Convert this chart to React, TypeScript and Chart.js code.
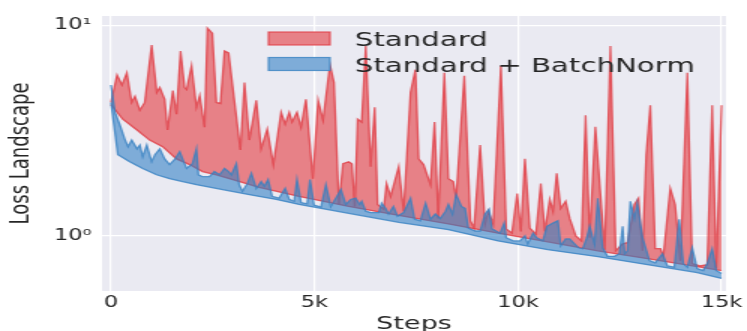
import { useEffect, useRef } from 'react';
import { Chart, registerables } from 'chart.js';

Chart.register(...registerables);

// Training curves: min/max envelope of the loss landscape for each network.
const standardHighSteps = [
  0, 150, 270, 390, 510, 590, 710, 830, 1000, 1125,
  1200, 1320, 1390, 1520, 1610, 1710, 1810, 1860, 1980, 2100,
  2180, 2300, 2370, 2490, 2590, 2690, 2790, 2890, 3180, 3280,
  3400, 3570, 3690, 3840, 3990, 4180, 4280, 4380, 4450, 4570,
  4670, 4790, 4960, 5090, 5210, 5380, 5480, 5600, 5700, 5840,
  5920, 5990, 6060, 6160, 6260, 6380, 6480, 6550, 6700, 6770,
  6870, 7070, 7190, 7360, 7480, 7560, 7680, 7850, 7950, 8040,
  8190, 8290, 8410, 8480, 8680, 8830, 8920, 9070, 9190, 9270,
  9390, 9580, 9710, 9850, 9980, 10070, 10170, 10290, 10440, 10560,
  10660, 10780, 10860, 10950, 11050, 11170, 11270, 11420, 11560, 11660,
  11760, 11900, 12130, 12270, 12400, 12570, 12690, 12860, 12960, 13060,
  13150, 13250, 13370, 13500, 13570, 13740, 13860, 13990, 14160, 14280,
  14470, 14650, 14770, 14870, 15000,
];
const standardHighLoss = [
  4.3, 5.8, 5.2, 5.95, 4.3, 4.6, 3.95, 4.3, 8.06, 4.8,
  5.06, 4.45, 3.18, 4.9, 3.78, 7.55, 5.06, 4.95, 6.42, 4.08,
  4.64, 3.28, 9.68, 9.17, 4.3, 4.25, 7.55, 7.39, 2.56, 5.34,
  2.85, 4.4, 2.59, 3.21, 2.18, 3.86, 3.39, 3.86, 3.47, 3.86,
  3.28, 4.45, 1.87, 4.4, 3.54, 6.49, 5.34, 1.41, 2.2, 2.25,
  2.2, 1.38, 3.58, 3.47, 7.97, 2.13, 4.08, 1.41, 1.34, 1.77,
  1.54, 2.13, 1.31, 4.8, 6.15, 2.32, 2.18, 1.75, 3.47, 1.21,
  5.95, 1.87, 1.81, 1.51, 5.76, 1.18, 1.09, 2.7, 1.14, 1.31,
  1.14, 6.42, 1.08, 1.03, 1.59, 1.05, 2.32, 1.09, 1.02, 1.77,
  1.05, 1.49, 1.31, 1.98, 1.35, 1.46, 1.21, 1.0, 0.947, 3.74,
  0.98, 3.3, 0.86, 7.97, 0.85, 0.917, 0.93, 1.41, 1.51, 0.85,
  2.43, 4.17, 0.87, 0.87, 0.8, 1.68, 1.41, 0.763, 5.95, 0.739,
  0.72, 0.73, 4.17, 0.7, 4.17,
];

const standardLowSteps = [
  0, 290, 640, 950, 1270, 1610, 1930, 2250, 2590, 2910,
  3640, 4620, 5840, 7070, 8290, 9510, 10730, 11960, 13180, 14400, 15000,
];
const standardLowLoss = [
  4.2, 3.58, 3.18, 2.85, 2.65, 2.32, 2.18, 2.02, 1.95, 1.87,
  1.7, 1.54, 1.38, 1.25, 1.14, 1.03, 0.937, 0.85, 0.78, 0.715, 0.685,
];

const batchNormHighSteps = [
  0, 100, 220, 340, 420, 510, 640, 710, 780, 880,
  1000, 1080, 1200, 1320, 1440, 1560, 1690, 1760, 1860, 2000,
  2100, 2150, 2250, 2420, 2540, 2670, 2790, 2890, 2960, 3080,
  3150, 3230, 3350, 3450, 3570, 3690, 3770, 3860, 3960, 4130,
  4280, 4380, 4500, 4570, 4670, 4820, 4890, 4990, 5160, 5280,
  5400, 5550, 5650, 5770, 5890, 6010, 6110, 6160, 6260, 6380,
  6580, 6650, 6750, 6820, 6940, 7040, 7190, 7360, 7460, 7600,
  7730, 7850, 7970, 8090, 8220, 8290, 8390, 8480, 8610, 8700,
  8780, 8950, 9070, 9190, 9290, 9360, 9460, 9560, 9660, 9710,
  9880, 10050, 10170, 10240, 10370, 10460, 10610, 10710, 10860, 10980,
  11050, 11170, 11270, 11390, 11490, 11590, 11690, 11760, 11880, 11960,
  12080, 12200, 12370, 12490, 12570, 12620, 12690, 12760, 12860, 12930,
  13060, 13230, 13370, 13550, 13670, 13840, 13960, 14060, 14160, 14280,
  14400, 14550, 14650, 14770, 14870, 15000,
];
const batchNormHighLoss = [
  5.2, 3.86, 3.36, 2.88, 2.65, 2.85, 2.59, 2.7, 2.38, 2.7,
  2.25, 2.43, 2.59, 2.32, 2.18, 2.3, 2.51, 2.32, 2.09, 2.2,
  2.59, 1.95, 1.91, 1.91, 2.02, 1.95, 2.09, 2.02, 1.95, 2.2,
  1.75, 1.63, 1.77, 1.98, 1.68, 1.81, 1.72, 1.85, 1.54, 1.51,
  1.68, 1.49, 1.46, 1.85, 1.44, 1.42, 1.85, 1.4, 1.37, 1.75,
  1.38, 1.54, 1.66, 1.41, 1.49, 1.51, 1.41, 1.46, 1.31, 1.29,
  1.29, 1.43, 1.35, 1.27, 1.38, 1.24, 1.29, 1.51, 1.2, 1.18,
  1.43, 1.2, 1.27, 1.21, 1.31, 1.41, 1.27, 1.57, 1.38, 1.35,
  1.09, 1.055, 1.055, 1.27, 1.34, 1.08, 1.055, 1.03, 1.15, 0.98,
  0.947, 0.947, 1.0, 0.917, 1.03, 0.98, 0.947, 1.11, 1.15, 1.18,
  0.898, 0.968, 0.968, 0.917, 0.878, 0.869, 0.98, 1.11, 0.917, 1.51,
  0.878, 0.8, 0.8, 0.823, 1.11, 0.823, 0.85, 1.46, 1.21, 1.43,
  0.98, 0.763, 0.745, 0.823, 0.72, 0.71, 1.2, 0.739, 0.71, 0.878,
  0.7, 0.685, 0.739, 0.869, 0.685, 0.663,
];

const batchNormLowSteps = [
  0, 170, 460, 780, 1120, 1440, 1760, 2100, 2740, 3400,
  4060, 4620, 5840, 7070, 8290, 9510, 10730, 11960, 13180, 14400, 15000,
];
const batchNormLowLoss = [
  4.3, 2.43, 2.25, 2.09, 1.95, 1.87, 1.81, 1.75, 1.66, 1.57,
  1.49, 1.41, 1.28, 1.16, 1.07, 0.947, 0.86, 0.797, 0.73, 0.67, 0.628,
];

const seriesNames = ['Standard', 'Standard + BatchNorm'];
const xTickValues = [0, 5000, 10000, 15000];
const xTickLabels = ['0', '5k', '10k', '15k'];
const yTickValues = [1, 10];
const yTickLabels = ['10\u2070', '10\u00b9'];

const FONT = '"DejaVu Sans", sans-serif';
const TEXT = '#262626';
const PLOT_BG = '#EAEAF2';
const RED_FILL = 'rgba(228, 58, 64, 0.6)';
const RED_EDGE = 'rgba(224, 56, 64, 0.78)';
const BLUE_FILL = 'rgba(48, 128, 196, 0.58)';
const BLUE_EDGE = 'rgba(52, 128, 194, 0.78)';

// The figure is laid out at 498px wide and shown 1.5x wider.
const DRAW_W = 498;
const DRAW_H = 331;
const SHOW_W = 747;

const toPoints = (xs: number[], ys: number[]) => xs.map((x, i) => ({ x, y: ys[i] }));

const plotBackground = {
  id: 'plotBackground',
  beforeDraw(chart: Chart) {
    const { ctx, chartArea: a } = chart;
    ctx.save();
    ctx.fillStyle = PLOT_BG;
    ctx.fillRect(a.left, a.top, a.right - a.left, a.bottom - a.top);
    ctx.restore();
  },
};

const bandLegend = {
  id: 'bandLegend',
  afterDraw(chart: Chart) {
    const { ctx, chartArea: a } = chart;
    const rows = [
      { name: seriesNames[0], fill: RED_FILL, edge: RED_EDGE, top: a.top + 16 },
      { name: seriesNames[1], fill: BLUE_FILL, edge: BLUE_EDGE, top: a.top + 41.5 },
    ];
    ctx.save();
    ctx.font = `19.5px ${FONT}`;
    ctx.textBaseline = 'alphabetic';
    ctx.textAlign = 'left';
    for (const r of rows) {
      const bx = a.left + 111;
      ctx.fillStyle = PLOT_BG;
      ctx.fillRect(bx, r.top, 41, 13);
      ctx.fillStyle = r.fill;
      ctx.fillRect(bx, r.top, 41, 13);
      ctx.strokeStyle = r.edge;
      ctx.lineWidth = 1.2;
      ctx.strokeRect(bx, r.top, 41, 13);
      ctx.fillStyle = TEXT;
      ctx.fillText(r.name, a.left + 168.5, r.top + 14);
    }
    ctx.restore();
  },
};

export default function App() {
  const canvasRef = useRef<HTMLCanvasElement>(null);

  useEffect(() => {
    const canvas = canvasRef.current;
    if (!canvas) return;
    Chart.defaults.font.family = FONT;

    const line = {
      pointRadius: 0,
      pointHoverRadius: 0,
      borderWidth: 1.3,
      tension: 0,
    };

    const chart = new Chart(canvas, {
      type: 'line',
      data: {
        datasets: [
          {
            ...line,
            label: `${seriesNames[0]} min`,
            data: toPoints(standardLowSteps, standardLowLoss),
            borderColor: RED_EDGE,
            fill: false,
            order: 2,
          },
          {
            ...line,
            label: seriesNames[0],
            data: toPoints(standardHighSteps, standardHighLoss),
            borderColor: RED_EDGE,
            backgroundColor: RED_FILL,
            fill: { target: 0 },
            order: 2,
          },
          {
            ...line,
            label: `${seriesNames[1]} min`,
            data: toPoints(batchNormLowSteps, batchNormLowLoss),
            borderColor: BLUE_EDGE,
            fill: false,
            order: 1,
          },
          {
            ...line,
            label: seriesNames[1],
            data: toPoints(batchNormHighSteps, batchNormHighLoss),
            borderColor: BLUE_EDGE,
            backgroundColor: BLUE_FILL,
            fill: { target: 2 },
            order: 1,
          },
        ],
      },
      options: {
        responsive: false,
        maintainAspectRatio: false,
        devicePixelRatio: 1,
        animation: false,
        events: [],
        layout: { padding: { left: 0, top: 13, right: 12, bottom: 0 } },
        plugins: {
          legend: { display: false },
          tooltip: { enabled: false },
        },
        scales: {
          x: {
            type: 'linear',
            min: -220,
            max: 15110,
            bounds: 'data',
            afterBuildTicks: (s: any) => {
              s.ticks = xTickValues.map((v) => ({ value: v }));
            },
            afterFit: (s: any) => {
              s.height = 40;
            },
            grid: { color: '#ffffff', lineWidth: 1.2, drawTicks: false },
            border: { display: false },
            ticks: {
              autoSkip: false,
              maxRotation: 0,
              padding: 3,
              color: TEXT,
              font: { family: FONT, size: 15 },
              callback: (v: any) => xTickLabels[xTickValues.indexOf(Number(v))] ?? '',
            },
            title: {
              display: true,
              text: 'Steps',
              color: TEXT,
              font: { family: FONT, size: 18, lineHeight: 0.72 },
              padding: { top: 0, bottom: 0 },
            },
          },
          y: {
            type: 'logarithmic',
            min: 0.5476,
            max: 11.06,
            bounds: 'data',
            afterBuildTicks: (s: any) => {
              s.ticks = yTickValues.map((v) => ({ value: v, major: true }));
            },
            afterFit: (s: any) => {
              s.width = 68;
            },
            grid: { color: '#ffffff', lineWidth: 1.2, drawTicks: false },
            border: { display: false },
            ticks: {
              autoSkip: false,
              padding: 7,
              color: TEXT,
              font: { family: FONT, size: 15 },
              callback: (v: any) => yTickLabels[yTickValues.indexOf(Number(v))] ?? '',
            },
            title: {
              display: true,
              text: 'Loss Landscape',
              color: TEXT,
              font: { family: FONT, size: 18 },
              padding: { top: 4, bottom: 0 },
            },
          },
        },
      },
      plugins: [plotBackground, bandLegend],
    } as any);

    return () => chart.destroy();
  }, []);

  return (
    <div
      style={{
        position: 'absolute',
        left: 0,
        top: 0,
        width: SHOW_W,
        height: DRAW_H,
        background: '#ffffff',
      }}
    >
      <canvas
        ref={canvasRef}
        width={DRAW_W}
        height={DRAW_H}
        style={{ width: `${SHOW_W}px`, height: `${DRAW_H}px`, display: 'block' }}
      />
    </div>
  );
}
